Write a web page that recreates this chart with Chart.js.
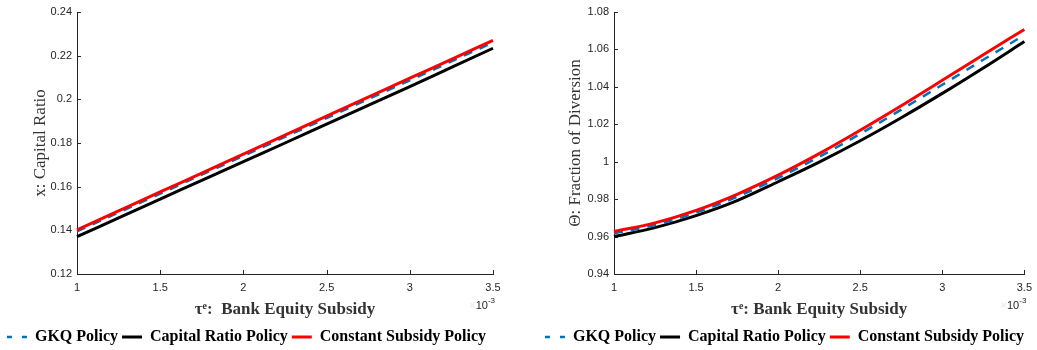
<!DOCTYPE html>
<html>
<head>
<meta charset="utf-8">
<script src="https://cdn.jsdelivr.net/npm/chart.js@4.4.0/dist/chart.umd.min.js"></script>
<style>
  html, body { margin: 0; padding: 0; background: #ffffff; overflow: hidden; }
  body { width: 1037px; height: 350px; position: relative; }
  .panel { position: absolute; top: 0; }
</style>
</head>
<body>
<div class="panel" style="left:0px"><canvas id="ratioChart" width="518" height="355"></canvas></div>
<div class="panel" style="left:519px"><canvas id="diversionChart" width="520" height="355"></canvas></div>
<script>
// Bank equity subsidy grid (tau^e)
const subsidy = [0.00100, 0.00125, 0.00150, 0.00175, 0.00200, 0.00225, 0.00250, 0.00275, 0.00300, 0.00325, 0.00350];

// Capital ratio x under each policy
const ratioGKQ      = [0.1395, 0.1482, 0.1568, 0.1655, 0.1741, 0.1828, 0.1914, 0.2001, 0.2087, 0.2174, 0.2260];
const ratioCapital  = [0.1371, 0.1457, 0.1543, 0.1629, 0.1715, 0.1800, 0.1886, 0.1972, 0.2058, 0.2146, 0.2234];
const ratioConstant = [0.1402, 0.1489, 0.1576, 0.1662, 0.1749, 0.1836, 0.1923, 0.2010, 0.2097, 0.2183, 0.2270];

// Fraction of diversion Theta under each policy
const divGKQ      = [0.9617, 0.9662, 0.9728, 0.9813, 0.9913, 1.0026, 1.0149, 1.0278, 1.0411, 1.0545, 1.0677];
const divCapital  = [0.9600, 0.9648, 0.9712, 0.9792, 0.9893, 0.9998, 1.0112, 1.0235, 1.0365, 1.0501, 1.0642];
const divConstant = [0.9627, 0.9673, 0.9740, 0.9826, 0.9928, 1.0043, 1.0168, 1.0299, 1.0435, 1.0572, 1.0707];

// Tick values
const subsidyTicks = [0.0010, 0.0015, 0.0020, 0.0025, 0.0030, 0.0035];
const ratioTicks = [0.12, 0.14, 0.16, 0.18, 0.20, 0.22, 0.24];
const diversionTicks = [0.94, 0.96, 0.98, 1.00, 1.02, 1.04, 1.06, 1.08];

const seriesNames = ['GKQ Policy', 'Capital Ratio Policy', 'Constant Subsidy Policy'];

const AXIS_COLOR = '#262626';
const TICK_FONT = { family: '"Liberation Sans", Arial, sans-serif', size: 11 };
const SERIF = '"Liberation Serif", "Times New Roman", serif';

function pairs(ys) {
  return subsidy.map((x, i) => ({ x: x, y: ys[i] }));
}

function trimNum(v) {
  return String(+(+v).toFixed(4));
}

// Inward tick marks on the left and bottom axes
const inwardTicks = {
  id: 'inwardTicks',
  beforeDatasetsDraw(chart) {
    const { ctx, chartArea, scales } = chart;
    const len = 4;
    ctx.save();
    ctx.strokeStyle = AXIS_COLOR;
    ctx.lineWidth = 1;
    ctx.beginPath();
    scales.x.ticks.forEach(t => {
      const px = Math.round(scales.x.getPixelForValue(t.value)) + 0.5;
      ctx.moveTo(px, chartArea.bottom);
      ctx.lineTo(px, chartArea.bottom - len);
    });
    scales.y.ticks.forEach(t => {
      const py = Math.round(scales.y.getPixelForValue(t.value)) + 0.5;
      ctx.moveTo(chartArea.left, py);
      ctx.lineTo(chartArea.left + len, py);
    });
    ctx.stroke();
    ctx.restore();
  }
};

// Exponent label for the subsidy axis
const exponentLabel = {
  id: 'exponentLabel',
  afterDraw(chart) {
    const { ctx, chartArea } = chart;
    const right = chartArea.right + 2;
    const y = chartArea.bottom + 32;
    const baseFont = '11px "Liberation Sans", Arial, sans-serif';
    const supFont = '8px "Liberation Sans", Arial, sans-serif';
    ctx.save();
    ctx.textBaseline = 'middle';
    ctx.textAlign = 'left';
    ctx.font = supFont;
    const supW = ctx.measureText('-3').width;
    ctx.font = baseFont;
    const baseW = ctx.measureText('10').width;
    const timesW = ctx.measureText('\u00d7').width;
    const x0 = right - supW - baseW - timesW;
    ctx.fillStyle = '#e6e6e6';
    ctx.fillText('\u00d7', x0, y);
    ctx.fillStyle = AXIS_COLOR;
    ctx.fillText('10', x0 + timesW, y);
    ctx.font = supFont;
    ctx.fillText('-3', x0 + timesW + baseW, y - 5);
    ctx.restore();
  }
};

function makeChart(canvasId, values, yTicks, yTitle, opts) {
  const colors = ['#0072BD', '#000000', '#FF0000'];
  const widths = [2.5, 3, 3];
  const dashes = [[9, 8], [], []];
  const drawOrder = [1, 2, 0];
  const datasets = values.map((ys, i) => ({
    label: seriesNames[i],
    data: pairs(ys),
    borderColor: colors[i],
    backgroundColor: colors[i],
    borderWidth: widths[i],
    borderDash: dashes[i],
    pointRadius: 0,
    pointHoverRadius: 0,
    cubicInterpolationMode: 'monotone',
    order: drawOrder[i],
    clip: 6
  }));

  return new Chart(document.getElementById(canvasId), {
    type: 'line',
    data: { datasets },
    options: {
      responsive: false,
      animation: false,
      events: [],
      layout: { padding: { left: opts.padLeft, right: opts.padRight, top: 12, bottom: 0 } },
      plugins: {
        tooltip: { enabled: false },
        legend: {
          display: true,
          position: 'bottom',
          align: 'center',
          labels: {
            usePointStyle: true,
            pointStyle: 'line',
            pointStyleWidth: 20,
            padding: 4,
            color: '#000000',
            font: { family: SERIF, size: 16, weight: 'bold' },
            sort: (a, b) => a.datasetIndex - b.datasetIndex,
            generateLabels: chart => {
              const items = Chart.defaults.plugins.legend.labels.generateLabels(chart);
              items.forEach(item => {
                const ds = chart.data.datasets[item.datasetIndex];
                item.lineWidth = ds.borderWidth;
                item.strokeStyle = ds.borderColor;
                item.lineDash = ds.borderDash.length ? [5, 10] : [];
              });
              return items;
            }
          }
        }
      },
      scales: {
        x: {
          type: 'linear',
          min: subsidyTicks[0],
          max: subsidyTicks[subsidyTicks.length - 1],
          afterBuildTicks: s => { s.ticks = subsidyTicks.map(v => ({ value: v })); },
          afterFit: s => { s.height = 51; },
          grid: { display: true, drawOnChartArea: false, drawTicks: false },
          border: { display: true, color: AXIS_COLOR, width: 1 },
          ticks: {
            padding: 7,
            color: AXIS_COLOR,
            font: TICK_FONT,
            maxRotation: 0,
            callback: v => trimNum(v * 1000)
          },
          title: {
            display: true,
            text: opts.xTitle,
            color: '#333333',
            font: { family: SERIF, size: 17, weight: 'bold' },
            padding: { top: 0, bottom: 5 }
          }
        },
        y: {
          type: 'linear',
          min: yTicks[0],
          max: yTicks[yTicks.length - 1],
          afterBuildTicks: s => { s.ticks = yTicks.map(v => ({ value: v })); },
          afterFit: s => { s.width = opts.yWidth; },
          grid: { display: true, drawOnChartArea: false, drawTicks: false },
          border: { display: true, color: AXIS_COLOR, width: 1 },
          ticks: {
            padding: 5,
            color: AXIS_COLOR,
            font: TICK_FONT,
            callback: v => trimNum(v)
          },
          title: {
            display: true,
            text: yTitle,
            color: '#333333',
            font: { family: SERIF, size: 17, weight: 'normal' },
            padding: { top: opts.yTitlePad, bottom: 0 }
          }
        }
      }
    },
    plugins: [inwardTicks, exponentLabel]
  });
}

makeChart('ratioChart', [ratioGKQ, ratioCapital, ratioConstant], ratioTicks, 'x: Capital Ratio',
  { padLeft: 0, padRight: 25, yWidth: 77, yTitlePad: 30, xTitle: '\u03c4\u1d49:  Bank Equity Subsidy' });

makeChart('diversionChart', [divGKQ, divCapital, divConstant], diversionTicks, '\u0398: Fraction of Diversion',
  { padLeft: 20, padRight: 9, yWidth: 75, yTitlePad: 26, xTitle: '\u03c4\u1d49: Bank Equity Subsidy' });
</script>
</body>
</html>
